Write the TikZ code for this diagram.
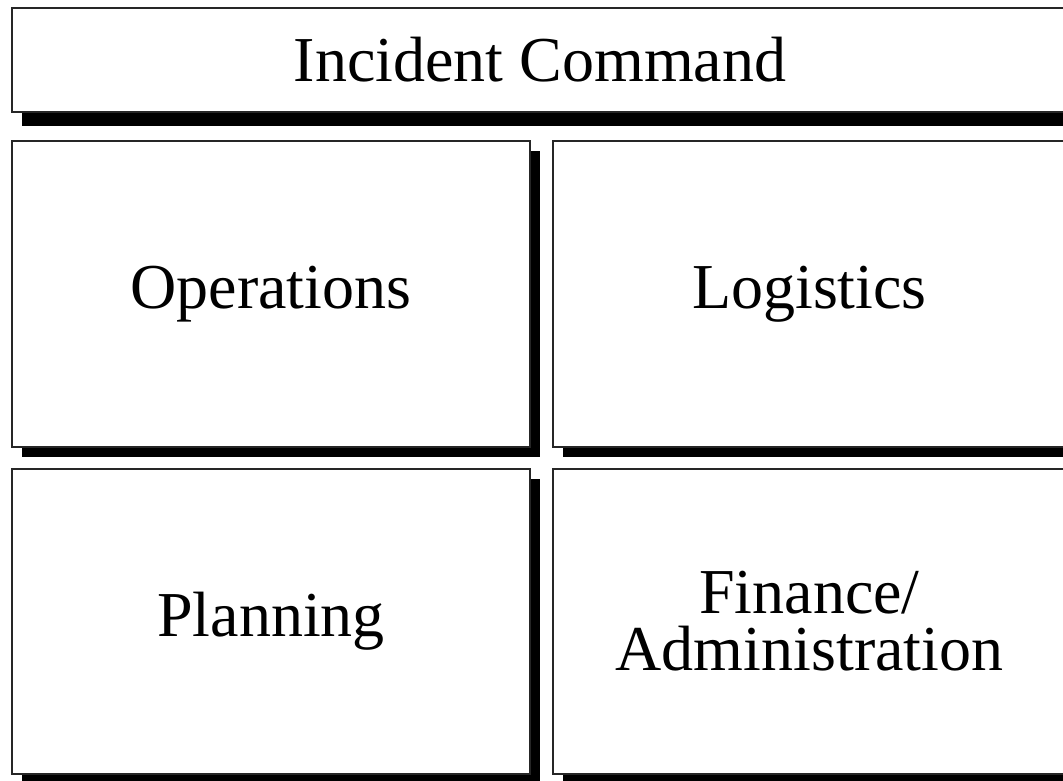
\documentclass[tikz,border=0pt]{standalone}
\usepackage{fontspec}
\setmainfont{Liberation Serif}
\usetikzlibrary{shadows,positioning}

\tikzset{
  unit/.style={draw=black!85, line width=1.2pt, fill=white, inner sep=0pt, outer sep=0pt,
    align=center, font=\fontsize{64}{57}\selectfont,
    drop shadow={shadow xshift=10pt, shadow yshift=#1, fill=black, opacity=1}},
  unit/.default=-10pt
}

\begin{document}
\begin{tikzpicture}[x=1pt,y=-1pt]
  \useasboundingbox (0,0) rectangle (1063,780);
  \node[unit=-14pt, minimum width=1056pt, minimum height=104pt] (command) at (540,60) {Incident Command};
  \node[unit, minimum width=518pt, minimum height=306pt] (ops) at (271,294) {Operations};
  \node[unit, minimum width=513pt, minimum height=306pt] (log) at (809.5,294) {Logistics};
  \node[unit, minimum width=518pt, minimum height=305pt] (plan) at (271,621.5) {Planning};
  \node[unit, minimum width=513pt, minimum height=305pt] (fin) at (809.5,621.5) {Finance/\\Administration};
\end{tikzpicture}
\end{document}
